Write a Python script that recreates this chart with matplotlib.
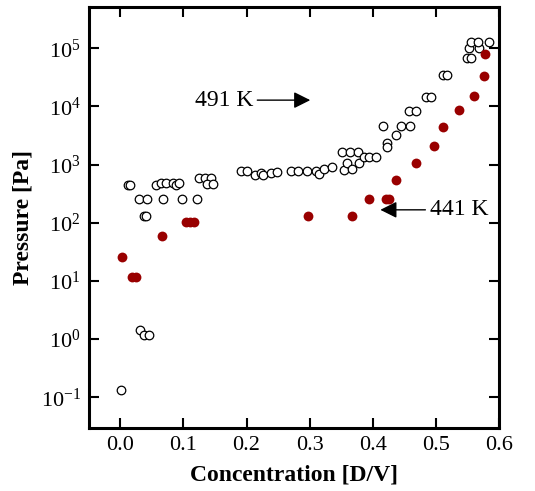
import numpy as np
import matplotlib
matplotlib.use("Agg")
import matplotlib.pyplot as plt

plt.rcParams['font.family'] = ['Liberation Serif', 'DejaVu Serif']
plt.rcParams['mathtext.fontset'] = 'stix'

# 491 K (open circles)
conc_491 = [0.001, 0.013, 0.016, 0.0295, 0.042, 0.067, 0.0975, 0.121, 0.038, 0.041,
            0.031, 0.038, 0.045, 0.056, 0.065, 0.073, 0.083, 0.089, 0.093,
            0.125, 0.135, 0.143, 0.137, 0.147,
            0.192, 0.200, 0.213, 0.223, 0.226, 0.239, 0.249,
            0.271, 0.281, 0.296, 0.310, 0.3155, 0.323, 0.3355,
            0.351, 0.364, 0.376, 0.355, 0.359, 0.367, 0.378, 0.3855, 0.394, 0.405,
            0.4155, 0.422, 0.423, 0.437, 0.4445, 0.459, 0.458, 0.469,
            0.484, 0.492, 0.511, 0.518, 0.549, 0.556, 0.552, 0.568,
            0.556, 0.566, 0.584]
pres_491 = [0.134, 445, 445, 255, 255, 255, 255, 255, 132, 132,
            1.43, 1.19, 1.19, 445, 482, 482, 482, 445, 482,
            597, 597, 597, 470, 470,
            776, 776, 655, 716, 655, 716, 746,
            776, 776, 776, 776, 700, 853, 910,
            1650, 1650, 1650, 798, 1067, 853, 1067, 1352, 1352, 1352,
            4570, 2356, 2009, 3200, 4570, 4570, 8400, 8400,
            14300, 14300, 34600, 34600, 67300, 67300, 1.0e5, 1.0e5,
            1.3e5, 1.3e5, 1.3e5]

# 441 K (filled dots)
conc_441 = [0.003, 0.019, 0.025, 0.066, 0.104, 0.110, 0.117, 0.298, 0.3665,
            0.394, 0.421, 0.425, 0.437, 0.469, 0.497, 0.511, 0.537, 0.561, 0.576, 0.578]
pres_441 = [25.5, 11.9, 11.9, 60.4, 102, 102, 102, 130, 132,
            259, 259, 259, 535, 1067, 2070, 4350, 8630, 15000, 33700, 78800]

xticks = [0.0, 0.1, 0.2, 0.3, 0.4, 0.5, 0.6]
yticks = [1e-1, 1e0, 1e1, 1e2, 1e3, 1e4, 1e5]

fig = plt.figure(figsize=(5.35, 4.91), dpi=100)
ax = fig.add_axes([0.1664, 0.129, 0.7663, 0.8567])

ax.scatter(conc_491, pres_491, s=38, facecolors='white', edgecolors='black', linewidths=0.9, zorder=3)
ax.scatter(conc_441, pres_441, s=50, color='#990000', linewidths=0, zorder=4)

ax.set_yscale('log')
ax.set_xlim(-0.0495, 0.6)
ax.set_ylim(10**-1.523, 10**5.71)
ax.set_xticks(xticks)
ax.set_xticklabels([f"{t:.1f}" for t in xticks])
ax.set_yticks(yticks)
ax.yaxis.set_minor_locator(matplotlib.ticker.NullLocator())

ax.tick_params(direction='in', length=7, width=1.5, top=True, right=True, labelsize=16, pad=6)
for s in ax.spines.values():
    s.set_linewidth(2.2)

ax.set_xlabel("Concentration [D/V]", fontsize=17, fontweight='bold', labelpad=7)
ax.set_ylabel("Pressure [Pa]", fontsize=17, fontweight='bold', labelpad=5)

ax.annotate("491 K", xy=(0.301, 12850), xytext=(0.118, 12850), fontsize=17,
            va='center', ha='left',
            arrowprops=dict(arrowstyle='-|>', color='black', lw=1.0, mutation_scale=25, shrinkA=1, shrinkB=0))
ax.annotate("441 K", xy=(0.412, 167), xytext=(0.490, 167), fontsize=17,
            va='center', ha='left',
            arrowprops=dict(arrowstyle='-|>', color='black', lw=1.0, mutation_scale=25, shrinkA=1, shrinkB=0))

fig.savefig("out.png", dpi=100)
